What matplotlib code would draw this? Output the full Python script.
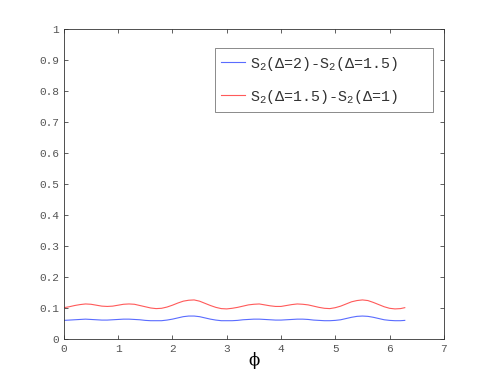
import numpy as np
import matplotlib
matplotlib.use("Agg")
import matplotlib.pyplot as plt

# sample positions in phi
phi = list(np.round(np.arange(0, 6.25, 0.1), 1)) + [6.28]

# S2(D=2) - S2(D=1.5)
diff_a = [0.060, 0.061, 0.062, 0.063, 0.064, 0.063, 0.062, 0.061, 0.061, 0.062,
          0.063, 0.064, 0.064, 0.063, 0.062, 0.060, 0.059, 0.059, 0.059, 0.061,
          0.064, 0.068, 0.072, 0.074, 0.074, 0.072, 0.068, 0.064, 0.061, 0.059,
          0.059, 0.059, 0.060, 0.062, 0.063, 0.064, 0.064, 0.063, 0.062, 0.061,
          0.061, 0.062, 0.063, 0.064, 0.064, 0.063, 0.061, 0.060, 0.059, 0.059,
          0.060, 0.062, 0.066, 0.070, 0.073, 0.074, 0.073, 0.070, 0.066, 0.062,
          0.060, 0.059, 0.059, 0.060]

# S2(D=1.5) - S2(D=1)
diff_b = [0.101, 0.104, 0.108, 0.111, 0.113, 0.112, 0.109, 0.106, 0.105, 0.106,
          0.109, 0.112, 0.113, 0.112, 0.108, 0.104, 0.100, 0.098, 0.099, 0.103,
          0.109, 0.116, 0.122, 0.125, 0.126, 0.122, 0.115, 0.108, 0.102, 0.098,
          0.097, 0.099, 0.102, 0.106, 0.110, 0.112, 0.113, 0.110, 0.107, 0.105,
          0.105, 0.108, 0.111, 0.113, 0.112, 0.110, 0.106, 0.102, 0.099, 0.098,
          0.101, 0.106, 0.113, 0.120, 0.124, 0.126, 0.124, 0.118, 0.111, 0.104,
          0.099, 0.097, 0.098, 0.101]

labels = [r"S$_2$($\Delta$=2)-S$_2$($\Delta$=1.5)",
          r"S$_2$($\Delta$=1.5)-S$_2$($\Delta$=1)"]

plt.rcParams["font.family"] = ["Liberation Mono", "DejaVu Sans Mono"]
plt.rcParams["mathtext.fontset"] = "custom"
plt.rcParams["mathtext.rm"] = "Liberation Mono"
plt.rcParams["mathtext.it"] = "Liberation Mono"

fig = plt.figure(figsize=(4.91, 3.82), dpi=100)
ax = fig.add_axes([0.13, 0.1126, 0.774, 0.8115])

ax.plot(phi, diff_a, color="#5a6cff", lw=0.8, label=labels[0])
ax.plot(phi, diff_b, color="#ff5a5a", lw=0.8, label=labels[1])

ax.set_xlim(0, 7)
ax.set_ylim(0, 1)
ax.set_xticks(range(8))
ax.set_yticks(np.arange(0, 1.01, 0.1))
ax.set_yticklabels(["0", "0.1", "0.2", "0.3", "0.4", "0.5", "0.6", "0.7", "0.8", "0.9", "1"])
ax.tick_params(direction="in", top=True, right=True, length=3, width=0.6,
               labelsize=8, colors="#444444", labelcolor="#555555")
for s in ax.spines.values():
    s.set_color("#333333")
    s.set_linewidth(0.6)

ax.set_xlabel("\u03d5", family="DejaVu Serif", fontsize=12, labelpad=-1)

leg = ax.legend(loc="upper left", mode="expand", fontsize=10.8,
                handlelength=1.6, handletextpad=0.3,
                bbox_to_anchor=(0.397, 0.0, 0.574, 0.939),
                borderaxespad=0, fancybox=False, labelspacing=1.0,
                borderpad=0.45)
leg.get_frame().set_edgecolor("#555555")
leg.get_frame().set_linewidth(0.6)
for t in leg.get_texts():
    t.set_color("#333333")

fig.savefig("out.png", dpi=100)
